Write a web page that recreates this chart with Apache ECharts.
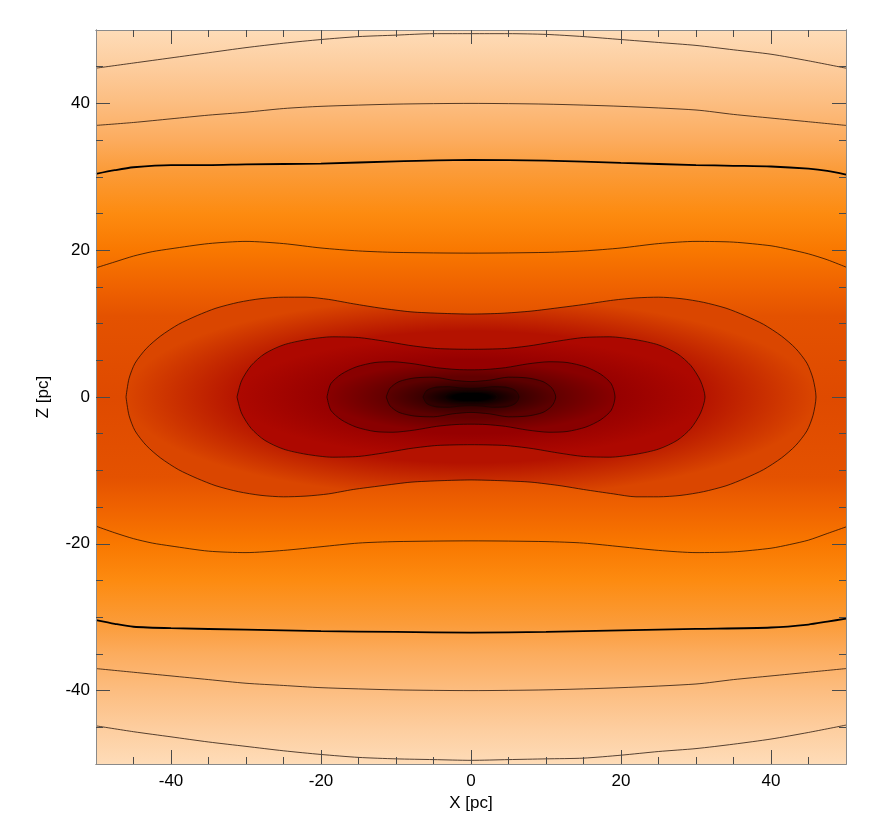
<!DOCTYPE html>
<html>
<head>
<meta charset="utf-8">
<script src="https://cdn.jsdelivr.net/npm/echarts@6/dist/echarts.min.js"></script>
<style>
  html, body { margin: 0; padding: 0; background: #fff; }
  #chart { width: 875px; height: 825px; }
</style>
</head>
<body>
<div id="chart"></div>
<script>
// axis ticks
var majorTicks = [-40, -20, 0, 20, 40];
var minorTicks = [-45, -35, -30, -25, -15, -10, -5, 5, 10, 15, 25, 30, 35, 45];

// contours, [X, Z] in pc
// open contours (run edge to edge), top and bottom branches
var contour1Top = [[-50,44.8],[-45,45.5],[-40,46.2],[-35,46.9],[-30,47.6],[-25,48.2],[-20,48.7],[-15,49.1],[-10,49.3],[-5,49.5],[0,49.5],[5,49.5],[10,49.4],[15,49.1],[20,48.7],[25,48.3],[30,47.9],[35,47.3],[40,46.7],[45,45.8],[50,44.8]];
var contour1Bottom = [[-50,-44.8],[-45,-45.6],[-40,-46.3],[-35,-47.0],[-30,-47.6],[-25,-48.2],[-20,-48.7],[-15,-49.1],[-10,-49.3],[-5,-49.4],[0,-49.5],[5,-49.4],[10,-49.3],[15,-49.2],[20,-48.8],[25,-48.3],[30,-47.9],[35,-47.3],[40,-46.6],[45,-45.7],[50,-44.7]];
var contour2Top = [[-50,37.0],[-45,37.4],[-40,37.9],[-35,38.4],[-30,38.8],[-25,39.3],[-20,39.6],[-10,39.9],[0,40.0],[10,39.9],[20,39.6],[30,39.1],[35,38.5],[40,38.0],[45,37.5],[50,37.0]];
var contour2Bottom = [[-50,-37.0],[-45,-37.5],[-40,-38.0],[-35,-38.5],[-30,-39.0],[-25,-39.3],[-20,-39.6],[-10,-39.9],[0,-40.0],[10,-39.9],[20,-39.6],[30,-39.1],[35,-38.5],[40,-38.0],[45,-37.5],[50,-37.0]];
var contour3Top = [[-50,30.4],[-47.5,30.9],[-45,31.3],[-40,31.6],[-35,31.6],[-30,31.7],[-20,31.8],[-10,32.1],[0,32.3],[10,32.2],[20,31.9],[30,31.6],[35,31.5],[40,31.4],[45,31.1],[47.5,30.8],[50,30.3]];
var contour3Bottom = [[-50,-30.4],[-47.5,-30.9],[-45,-31.3],[-40,-31.5],[-30,-31.7],[-20,-31.9],[-10,-32.0],[0,-32.1],[10,-32.0],[20,-31.8],[30,-31.6],[40,-31.4],[45,-31.0],[47.5,-30.6],[50,-30.2]];
var contour4Top = [[-50,17.6],[-47.5,18.4],[-45,19.2],[-42.5,19.8],[-40,20.2],[-35,20.9],[-30,21.2],[-25,20.9],[-20,20.3],[-15,19.9],[-10,19.7],[0,19.6],[10,19.7],[15,19.9],[20,20.3],[25,20.9],[30,21.2],[35,21.1],[40,20.6],[42.5,20.1],[45,19.5],[47.5,18.7],[50,17.7]];
var contour4Bottom = [[-50,-17.6],[-47.5,-18.5],[-45,-19.3],[-42.5,-19.9],[-40,-20.3],[-35,-21.0],[-30,-21.2],[-25,-20.9],[-20,-20.4],[-15,-19.9],[-10,-19.7],[0,-19.6],[10,-19.7],[15,-19.9],[20,-20.4],[25,-20.9],[30,-21.2],[35,-21.1],[40,-20.6],[42.5,-20.1],[45,-19.5],[47.5,-18.6],[50,-17.7]];

// closed contours around the centre, full loops
var contour5 = [[-46,0],[-45.6,2.5],[-44.8,4.6],[-43.3,6.6],[-41.4,8.3],[-39,9.9],[-36.5,11.1],[-34,12.1],[-31,12.9],[-28,13.4],[-25,13.6],[-22,13.6],[-19,13.3],[-15.7,12.7],[-12,12.1],[-8,11.6],[-4,11.4],[0,11.3],[4,11.4],[8,11.7],[12,12.2],[15,12.6],[19,13.2],[22,13.5],[25,13.6],[28,13.4],[31,12.9],[34,12.1],[36.5,11.1],[39,9.9],[41.4,8.3],[43.3,6.6],[44.8,4.6],[45.6,2.5],[46,0],
  [45.6,-2.5],[44.8,-4.6],[43.3,-6.6],[41.4,-8.3],[39,-9.9],[36.5,-11.1],[34,-12.1],[31,-12.9],[28,-13.4],[25,-13.6],[22,-13.6],[19,-13.2],[15,-12.6],[12,-12.1],[8,-11.6],[4,-11.4],[0,-11.3],[-4,-11.4],[-8,-11.6],[-12,-12.1],[-15.7,-12.6],[-19,-13.2],[-22,-13.5],[-25,-13.6],[-28,-13.4],[-31,-12.9],[-34,-12.1],[-36.5,-11.1],[-39,-9.9],[-41.4,-8.3],[-43.3,-6.6],[-44.8,-4.6],[-45.6,-2.5],[-46,0]];
var contour6 = [[-31.2,0],[-30.6,2.2],[-29.3,4.3],[-27.5,5.9],[-25,7.1],[-22,7.8],[-18.5,8.2],[-15,8.1],[-11.5,7.6],[-8,7.0],[-4.5,6.6],[0,6.5],[4.5,6.6],[8,7.0],[11.5,7.6],[15,8.1],[18.5,8.2],[22,7.8],[25,7.1],[27.5,5.9],[29.3,4.3],[30.6,2.2],[31.2,0],
  [30.6,-2.2],[29.3,-4.3],[27.5,-5.9],[25,-7.1],[22,-7.8],[18.5,-8.2],[15,-8.1],[11.5,-7.6],[8,-7.0],[4.5,-6.6],[0,-6.5],[-4.5,-6.6],[-8,-7.0],[-11.5,-7.6],[-15,-8.1],[-18.5,-8.2],[-22,-7.8],[-25,-7.1],[-27.5,-5.9],[-29.3,-4.3],[-30.6,-2.2],[-31.2,0]];
var contour7 = [[-19.2,0],[-18.7,1.8],[-17.3,3.1],[-15.3,4.1],[-12.8,4.7],[-10.4,4.8],[-7.5,4.5],[-4.6,4.0],[-2,3.75],[0,3.7],[2,3.75],[4.6,4.0],[7.5,4.5],[10.4,4.8],[12.8,4.7],[15.3,4.1],[17.3,3.1],[18.7,1.8],[19.2,0],
  [18.7,-1.8],[17.3,-3.1],[15.3,-4.1],[12.8,-4.7],[10.4,-4.8],[7.5,-4.5],[4.6,-4.0],[2,-3.75],[0,-3.7],[-2,-3.75],[-4.6,-4.0],[-7.5,-4.5],[-10.4,-4.8],[-12.8,-4.7],[-15.3,-4.1],[-17.3,-3.1],[-18.7,-1.8],[-19.2,0]];
var contour8 = [[-11.3,0],[-10.8,1.2],[-9.6,2.1],[-7.5,2.6],[-5,2.7],[-2.5,2.3],[0,2.1],[2.5,2.3],[5,2.7],[7.5,2.6],[9.6,2.1],[10.8,1.2],[11.3,0],
  [10.8,-1.2],[9.6,-2.1],[7.5,-2.6],[5,-2.7],[2.5,-2.3],[0,-2.1],[-2.5,-2.3],[-5,-2.7],[-7.5,-2.6],[-9.6,-2.1],[-10.8,-1.2],[-11.3,0]];
var contour9 = [[-6.4,0],[-5.9,0.9],[-4.6,1.35],[-3,1.4],[-1.5,1.25],[0,1.2],[1.5,1.25],[3,1.4],[4.6,1.35],[5.9,0.9],[6.4,0],
  [5.9,-0.9],[4.6,-1.35],[3,-1.4],[1.5,-1.25],[0,-1.2],[-1.5,-1.25],[-3,-1.4],[-4.6,-1.35],[-5.9,-0.9],[-6.4,0]];
var contour10 = [[-3.5,0],[-3.1,0.5],[-2,0.75],[0,0.7],[2,0.75],[3.1,0.5],[3.5,0],
  [3.1,-0.5],[2,-0.75],[0,-0.7],[-2,-0.75],[-3.1,-0.5],[-3.5,0]];

var openContours = [contour1Top, contour1Bottom, contour2Top, contour2Bottom, contour3Top, contour3Bottom, contour4Top, contour4Bottom];
var thickContours = [contour3Top, contour3Bottom];
var closedContours = [contour5, contour6, contour7, contour8, contour9, contour10];

// fill colours of the closed bands: [edge, inner, inner ratio]
var bandFills = [
  ['#da4600', '#b41200', 0.66],
  ['#ad0800', '#960000', 0.61],
  ['#890000', '#620000', 0.58],
  ['#5c0000', '#380000', 0.55],
  ['#300000', '#120000', 0.55],
  ['#100000', '#000000', 0.7]
];

var font = 'Liberation Sans, Arial, Helvetica, sans-serif';

function axisCfg(pos, ticks, len, labelMargin) {
  return {
    type: 'value', min: -50, max: 50, position: pos, z: 10,
    axisLine: { show: true, onZero: false, lineStyle: { color: '#8a8a8a', width: 1 } },
    axisTick: { show: true, inside: true, length: len, customValues: ticks, lineStyle: { color: '#4a4a4a', width: 1 } },
    axisLabel: labelMargin ? { customValues: ticks, color: '#000', fontSize: 17, fontFamily: font, margin: labelMargin } : { show: false },
    splitLine: { show: false }
  };
}

var xAxes = [axisCfg('bottom', majorTicks, 14, 9), axisCfg('bottom', minorTicks, 7, 0),
             axisCfg('top', majorTicks, 14, 0), axisCfg('top', minorTicks, 7, 0)];
xAxes[0].name = 'X [pc]';
xAxes[0].nameLocation = 'middle';
xAxes[0].nameGap = 27;
xAxes[0].nameTextStyle = { color: '#000', fontSize: 17, fontFamily: font };

var yAxes = [axisCfg('left', majorTicks, 14, 6), axisCfg('left', minorTicks, 7, 0),
             axisCfg('right', majorTicks, 14, 0), axisCfg('right', minorTicks, 7, 0)];
yAxes[0].name = 'Z [pc]';
yAxes[0].nameLocation = 'middle';
yAxes[0].nameGap = 44;
yAxes[0].nameRotate = 90;
yAxes[0].nameTextStyle = { color: '#000', fontSize: 17, fontFamily: font };

function renderBand(params, api) {
  var i = params.dataIndex;
  var pts = closedContours[i].map(function (p) { return api.coord(p); });
  var c = api.coord([0, 0]);
  var halfW = 0, halfH = 0;
  pts.forEach(function (p) {
    halfW = Math.max(halfW, Math.abs(p[0] - c[0]));
    halfH = Math.max(halfH, Math.abs(p[1] - c[1]));
  });
  var s = halfH / halfW;
  var local = pts.map(function (p) { return [p[0], c[1] + (p[1] - c[1]) / s]; });
  var f = bandFills[i];
  return {
    type: 'polygon',
    originX: c[0], originY: c[1], scaleY: s,
    shape: { points: local },
    style: {
      fill: new echarts.graphic.RadialGradient(c[0], c[1], halfW, [
        { offset: 0, color: f[1] },
        { offset: f[2], color: f[1] },
        { offset: 1, color: f[0] }
      ], true)
    }
  };
}

var series = [{
  type: 'custom',
  renderItem: renderBand,
  data: closedContours.map(function (_, i) { return [i, 0]; }),
  silent: true,
  z: 2
}];

openContours.concat(closedContours).forEach(function (c) {
  var thick = thickContours.indexOf(c) >= 0;
  series.push({
    type: 'line',
    data: c,
    showSymbol: false,
    smooth: 0.25,
    silent: true,
    z: 3,
    lineStyle: thick ? { color: '#000', width: 1.8 } : { color: 'rgba(20,5,0,0.8)', width: 0.9 }
  });
});

var chart = echarts.init(document.getElementById('chart'));
chart.setOption({
  animation: false,
  grid: {
    left: 96, right: 29, top: 30, bottom: 61,
    show: true, borderWidth: 0,
    backgroundColor: new echarts.graphic.LinearGradient(0, 0, 0, 1, [
      { offset: 0.00, color: '#fedcb8' },
      { offset: 0.05, color: '#fdcd9e' },
      { offset: 0.10, color: '#fcbd80' },
      { offset: 0.15, color: '#fcac5e' },
      { offset: 0.19, color: '#fb9c3a' },
      { offset: 0.25, color: '#fd8b10' },
      { offset: 0.30, color: '#f97800' },
      { offset: 0.35, color: '#ef6200' },
      { offset: 0.39, color: '#e45200' },
      { offset: 0.50, color: '#df4a00' },
      { offset: 0.61, color: '#e45200' },
      { offset: 0.65, color: '#ef6200' },
      { offset: 0.70, color: '#f97800' },
      { offset: 0.75, color: '#fd8b10' },
      { offset: 0.81, color: '#fb9c3a' },
      { offset: 0.85, color: '#fcac5e' },
      { offset: 0.90, color: '#fcbd80' },
      { offset: 0.95, color: '#fdcd9e' },
      { offset: 1.00, color: '#fedcb8' }
    ])
  },
  xAxis: xAxes,
  yAxis: yAxes,
  series: series
});
</script>
</body>
</html>
